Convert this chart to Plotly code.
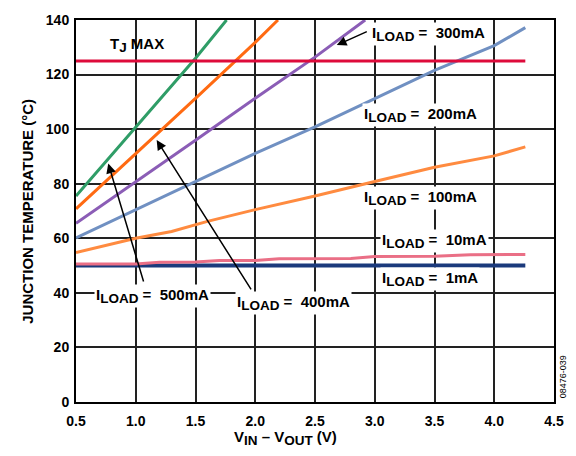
import plotly.graph_objects as go

# ---- data ----
x_500 = [0.5, 1.0, 1.5, 1.76]
y_500 = [75.5, 100.8, 126.0, 140.0]

x_400 = [0.5, 1.0, 1.5, 2.0, 2.19]
y_400 = [70.8, 91.0, 111.3, 131.8, 140.0]

x_300 = [0.5, 1.0, 1.5, 2.0, 2.5, 2.92]
y_300 = [65.5, 80.6, 95.9, 111.3, 126.4, 140.0]

x_200 = [0.5, 1.0, 1.5, 2.0, 2.5, 3.0, 3.5, 4.0, 4.26]
y_200 = [60.1, 70.4, 80.8, 91.1, 100.8, 111.1, 121.5, 130.6, 137.2]

x_100 = [0.5, 0.8, 1.0, 1.3, 1.6, 2.0, 2.5, 3.0, 3.5, 4.0, 4.26]
y_100 = [54.8, 58.0, 60.0, 62.5, 66.2, 70.5, 75.5, 80.8, 86.0, 90.2, 93.5]

x_10 = [0.5, 1.0, 1.2, 1.5, 1.7, 2.0, 2.2, 2.5, 2.8, 3.0, 3.5, 3.8, 4.0, 4.26]
y_10 = [50.6, 50.6, 51.2, 51.3, 51.9, 51.9, 52.5, 52.5, 52.6, 53.3, 53.4, 54.0, 54.0, 54.1]

x_1 = [0.5, 4.26]
y_1 = [50.0, 50.0]

x_tjmax = [0.5, 4.26]
y_tjmax = [125.0, 125.0]

x_ticks = [0.5, 1.0, 1.5, 2.0, 2.5, 3.0, 3.5, 4.0, 4.5]
x_ticklabels = ["0.5", "1.0", "1.5", "2.0", "2.5", "3.0", "3.5", "4.0", "4.5"]
y_ticks = [0, 20, 40, 60, 80, 100, 120, 140]

series = [
    (x_1, y_1, "#1b3a7c", 4),
    (x_10, y_10, "#ea6f86", 3),
    (x_100, y_100, "#ff8b40", 3),
    (x_200, y_200, "#7090c2", 3),
    (x_300, y_300, "#8b5db6", 3),
    (x_400, y_400, "#ff6a12", 3),
    (x_500, y_500, "#2f9d67", 3),
    (x_tjmax, y_tjmax, "#de0b3b", 3),
]

FONT = "Arial, Liberation Sans, Helvetica, sans-serif"

fig = go.Figure()
for xs, ys, col, w in series:
    fig.add_trace(go.Scatter(x=xs, y=ys, mode="lines",
                             line=dict(color=col, width=w), showlegend=False,
                             hoverinfo="skip"))

lab_font = dict(family=FONT, size=15, color="black", weight="bold")


def sub(s):
    return '<sub><span style="font-size:13.5px">' + s + '</span></sub>'


labels = [
    (1.01, 131.0, "T" + sub("J") + " MAX"),
    (3.45, 134.7, "I" + sub("LOAD") + " =  300mA"),
    (3.38, 105.2, "I" + sub("LOAD") + " =  200mA"),
    (3.38, 74.9, "I" + sub("LOAD") + " =  100mA"),
    (3.50, 58.9, "I" + sub("LOAD") + " =  10mA"),
    (3.46, 45.1, "I" + sub("LOAD") + " =  1mA"),
    (1.136, 38.9, "I" + sub("LOAD") + " =  500mA"),
    (2.32, 36.3, "I" + sub("LOAD") + " =  400mA"),
]
for x, y, t in labels:
    bg = "rgba(0,0,0,0)" if "MAX" in t else "white"
    fig.add_annotation(x=x, y=y, text=t, showarrow=False, font=lab_font,
                       bgcolor=bg, borderpad=1, xanchor="center", yanchor="middle")

arrows = [
    # tip (x, y), tail (ax, ay)
    (2.682, 130.8, 2.946, 136.0),
    (0.770, 87.4, 1.069, 43.6),
    (1.175, 96.0, 1.973, 40.7),
]
for x, y, ax, ay in arrows:
    fig.add_annotation(x=x, y=y, ax=ax, ay=ay, axref="x", ayref="y", text="",
                       showarrow=True, arrowhead=2, arrowsize=1.3, arrowwidth=1.5,
                       arrowcolor="black")

# axis titles
fig.add_annotation(x=2.257, xref="x", y=-0.094, yref="paper",
                   text="V" + sub("IN") + " – V" + sub("OUT") + " (V)", showarrow=False,
                   font=lab_font, xanchor="center", yanchor="middle")
fig.add_annotation(x=-0.103, xref="paper", y=0.5, yref="paper",
                   text="JUNCTION TEMPERATURE (°C)", textangle=-90, showarrow=False,
                   font=lab_font, xanchor="center", yanchor="middle")
fig.add_annotation(x=1.019, xref="paper", y=0.065, yref="paper",
                   text="08476-039", textangle=-90, showarrow=False,
                   font=dict(family=FONT, size=9, color="black"),
                   xanchor="center", yanchor="middle")

tick_font = dict(family=FONT, size=14, color="black", weight="bold")
fig.update_xaxes(range=[0.5, 4.5], tickvals=x_ticks, ticktext=x_ticklabels,
                 showgrid=True, gridcolor="#222", gridwidth=1.6, zeroline=False,
                 showline=True, linecolor="black", linewidth=2, mirror=True,
                 ticks="", tickfont=tick_font, ticklabelstandoff=5)
fig.update_yaxes(range=[0, 140], tickvals=y_ticks, showgrid=True, gridcolor="#222",
                 gridwidth=1.6, zeroline=False, showline=True, linecolor="black",
                 linewidth=2, mirror=True, ticks="", tickfont=tick_font,
                 ticklabelstandoff=2)

fig.update_layout(width=576, height=456, margin=dict(l=76, r=22, t=17, b=54),
                  plot_bgcolor="white", paper_bgcolor="white", showlegend=False)

fig.write_html("out.html", config={"displayModeBar": False},
               post_script="document.body.style.margin='0';document.body.style.overflow='hidden';")
